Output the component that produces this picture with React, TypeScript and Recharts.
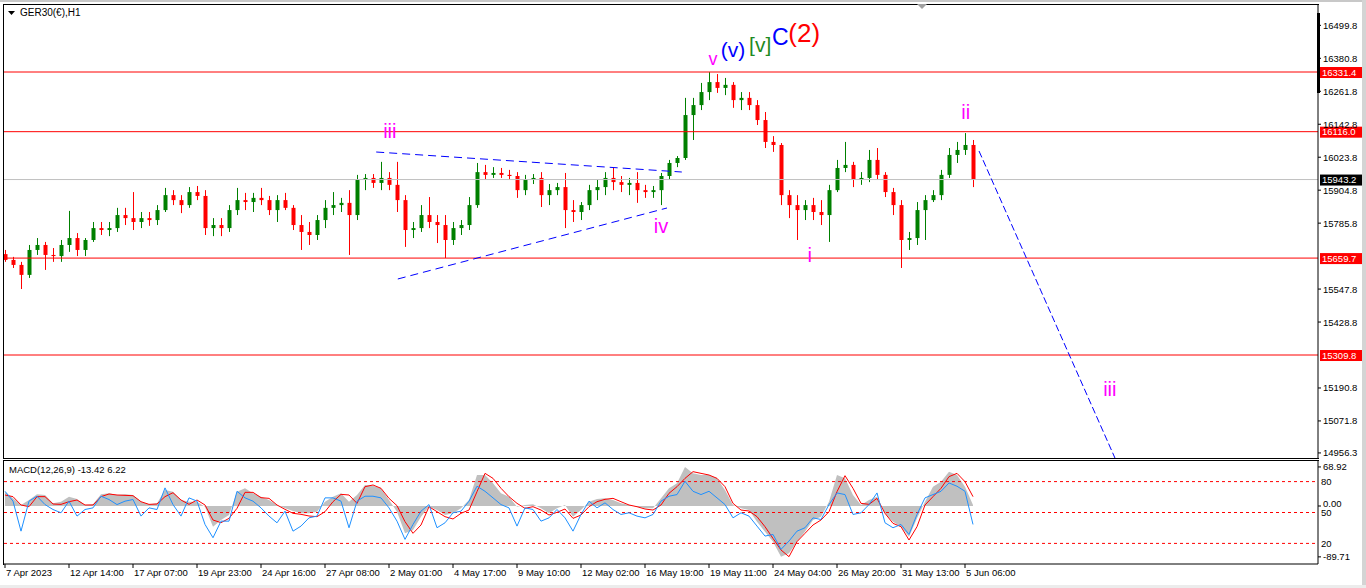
import React from 'react';
import { ComposedChart, Bar, Line, Area, XAxis, YAxis, ReferenceLine, ReferenceDot } from 'recharts';

const FONT = "'Liberation Sans', Arial, sans-serif";

// ---- price bars (H1 bars grouped, 8 per axis division) ----
const open = [
  15674,15653,15635,15599,15689,15707,15671,15667,15707,15732,
  15689,15725,15768,15761,15768,15815,15804,15790,15804,15797,
  15833,15887,15869,15851,15898,15884,15768,15779,15768,15833,
  15869,15862,15877,15869,15833,15869,15841,15779,15754,15743,
  15797,15841,15851,15859,15815,15942,15949,15931,15949,15924,
  15869,15761,15768,15815,15790,15779,15725,15768,15779,15851,
  15970,15960,15967,15960,15956,15905,15942,15949,15887,15905,
  15916,15833,15826,15851,15905,15916,15949,15934,15924,15931,
  15905,15898,15905,15956,16003,16021,16176,16212,16259,16295,
  16274,16285,16230,16238,16212,16158,16079,16068,15887,15851,
  15833,15851,15826,15815,15905,15985,15996,15942,15949,16014,
  15960,15898,15851,15725,15732,15833,15869,15887,15960,16032,
  16050,16068,
];
const high = [
  15689,15664,15646,15707,15732,15718,15696,15725,15830,15750,
  15732,15790,15790,15790,15841,15841,15898,15826,15826,15851,
  15913,15905,15887,15916,15920,15905,15804,15804,15851,15913,
  15895,15895,15913,15884,15887,15895,15851,15815,15790,15815,
  15869,15898,15877,15905,15960,15963,15963,16007,15970,16007,
  15887,15790,15851,15880,15815,15815,15790,15797,15880,16003,
  15996,15988,15985,15978,15970,15960,15963,15970,15927,15931,
  15967,15869,15862,15924,15942,15970,15985,15956,15949,15970,
  15924,15920,15967,16014,16028,16238,16238,16292,16331,16324,
  16310,16295,16259,16259,16230,16187,16100,16075,15905,15887,
  15869,15877,15869,15924,16014,16079,16007,15970,16050,16057,
  15970,15913,15869,15754,15862,15887,15905,15978,16057,16079,
  16111,16086,
];
const low = [
  15646,15624,15548,15588,15671,15617,15646,15646,15682,15667,
  15667,15718,15743,15739,15754,15779,15761,15768,15776,15779,
  15826,15851,15822,15841,15869,15743,15739,15739,15754,15815,
  15833,15826,15851,15815,15790,15833,15761,15689,15707,15725,
  15768,15815,15826,15671,15797,15905,15913,15905,15905,15826,
  15700,15732,15754,15768,15714,15660,15707,15743,15761,15841,
  15942,15949,15949,15942,15877,15887,15927,15844,15851,15887,
  15768,15790,15797,15833,15869,15887,15905,15898,15887,15859,
  15877,15877,15851,15942,15988,16014,16086,16194,16230,16256,
  16248,16202,16194,16194,16140,16057,16043,15851,15804,15725,
  15797,15797,15779,15718,15898,15970,15916,15924,15934,15942,
  15880,15815,15624,15689,15707,15725,15862,15869,15949,16003,
  16032,15916,
];
const close = [
  15653,15635,15599,15689,15707,15671,15667,15707,15732,15689,
  15725,15768,15761,15768,15815,15804,15790,15804,15797,15833,
  15887,15869,15851,15898,15884,15768,15779,15768,15833,15869,
  15862,15877,15869,15833,15869,15841,15779,15754,15743,15797,
  15841,15851,15859,15815,15942,15949,15931,15949,15924,15869,
  15761,15768,15815,15790,15779,15725,15768,15779,15851,15970,
  15960,15967,15960,15956,15905,15942,15949,15887,15905,15916,
  15833,15826,15851,15905,15916,15949,15934,15924,15931,15905,
  15898,15905,15956,16003,16021,16176,16212,16259,16295,16274,
  16285,16230,16238,16212,16158,16079,16068,15887,15851,15833,
  15851,15826,15815,15905,15985,15996,15942,15949,16014,15960,
  15898,15851,15725,15732,15833,15869,15887,15960,16032,16050,
  16068,15943,
];

// ---- MACD pane ----
const macdHist = [
  25.3,13.5,1.8,10.6,20.6,19.4,4.7,7.6,16.5,12.4,
  1.8,2.9,20.6,22.4,19.4,20.6,19.4,7.6,2.9,4.7,
  28.2,25.3,10.6,7.6,7.6,-1.2,-36.5,-24.7,-15.9,25.3,
  31.2,22.4,16.5,10.6,1.8,-4.1,-8.8,-12.9,-12.9,-10,
  7.6,16.5,22.4,7.6,19.4,37.1,35.9,31.2,10.6,-10,
  -48.2,-42.4,-18.8,-1.2,-7.1,-15.9,-12.9,-4.1,10.6,54.7,
  54.7,40,22.4,16.5,-1.2,1.8,2.9,-4.1,-12.9,-4.1,
  1.8,-18.8,-7.1,7.6,12.4,13.5,10.6,4.7,1.8,-1.2,
  -4.1,-4.1,13.5,31.2,40,68.9,57.6,54.7,54.7,48.8,
  28.2,1.8,-4.1,-7.1,-27.6,-45.3,-62.9,-89.7,-83.5,-62.9,
  -45.3,-24.7,-18.8,7.6,54.7,48.8,19.4,1.8,10.6,16.5,
  -12.9,-27.6,-36.5,-54.1,-21.8,7.6,34.1,42.9,60.6,54.7,
  34.1,1.8,
];
const macdSignal = [
  19.4,16.5,1.8,-1.2,16.5,16.5,3.5,2.9,7.6,10.6,
  1.8,1.8,16.5,21.2,19.4,18.8,18.2,7.6,2.9,3.5,
  16.5,23.5,10.6,2.9,10.6,1.8,-24.7,-29.4,-21.8,-4.1,
  24.1,24.1,14.7,13.5,1.8,-5.9,-12.9,-14.7,-17.6,-18.8,
  -10,7.6,20.6,19.4,4.7,34.1,37.1,31.2,13.5,0.6,
  -27.6,-48.2,-33.5,-1.2,-10,-18.8,-22.9,-12.9,-7.1,25.3,
  57.6,48.8,31.2,16.5,4.7,-4.1,-1.2,-7.1,-15.9,-11.2,
  -5.3,-21.8,-15.9,-1.2,7.6,11.8,13.5,7.6,1.8,-1.2,
  -5.3,-7.1,1.8,22.4,34.1,48.8,60.6,57.6,54.7,48.8,
  34.1,4.7,-7.1,-8.8,-18.8,-36.5,-57.1,-77.6,-89.4,-62.9,
  -48.2,-33.5,-24.7,-10,25.3,53.5,31.2,4.7,2.9,13.5,
  -12.9,-30.6,-36.5,-60,-36.5,1.8,16.5,31.2,51.8,57.6,
  42.9,16.5,
];
const oscLine = [
  70.6,61,31.9,61,65.8,57.7,52.9,49.7,61,46.5,
  52.9,54.5,65.8,62.6,57.7,61,62.6,46.5,54.5,52.9,
  73.9,57.7,46.5,64.2,61,38.4,25.5,41.6,41.6,70.6,
  64.2,61,54.5,46.5,40,51.3,31.9,36.8,44.8,46.5,
  64.2,64.2,61,35.2,61,65.8,65.8,64.2,54.5,41.6,
  23.9,38.4,51.3,57.7,35.2,40,49.7,51.3,61,75.5,
  70.6,64.2,57.7,54.5,36.8,54.5,52.9,41.6,44.8,52.9,
  44.8,31.9,48.1,61,54.5,59.4,52.9,48.1,49.7,46.5,
  44.8,48.1,61,65.8,67.4,80.3,70.6,67.4,70.6,64.2,
  57.7,44.8,49.7,46.5,36.8,27.1,28.7,14.2,22.3,31.9,
  35.2,44.8,43.2,57.7,69,67.4,48.1,49.7,57.7,69,
  40,35.2,38.4,28.7,48.1,64.2,67.4,70.6,78.7,75.5,
  70.6,38.4,
];

// ---- axes / levels ----
const dateTickIdx = [0, 8, 16, 24, 32, 40, 48, 56, 64, 72, 80, 88, 96, 104, 112, 120];
const dateTickLabels = [
  '7 Apr 2023', '12 Apr 14:00', '17 Apr 07:00', '19 Apr 23:00', '24 Apr 16:00', '27 Apr 08:00',
  '2 May 01:00', '4 May 17:00', '9 May 10:00', '12 May 02:00', '16 May 19:00', '19 May 11:00',
  '24 May 04:00', '26 May 20:00', '31 May 13:00', '5 Jun 06:00',
];
const priceTicks = [16499.8, 16380.8, 16261.8, 16142.8, 16023.8, 15904.8, 15785.8, 15547.8, 15428.8, 15190.8, 15071.8, 14956.3];
const levelPrices = [16331.4, 16116.0, 15659.7, 15309.8];
const currentPrice = 15943.2;
const macdTicks = [68.92, 0, -89.71];
const oscLevels = [80, 50, 20];

// wave trend lines (bar index / price)
const trendX1 = [46.4, 49.1, 121.75];
const trendY1 = [16042.6, 15584.2, 16046.2];
const trendX2 = [84.6, 82.75, 138.75];
const trendY2 = [15970.4, 15840.5, 14937.5];

// wave labels (bar index / price at text baseline)
const waveText = ['iii', 'iv', 'v', '(v)', '[v]', 'C', '(2)', 'i', 'ii', 'iii'];
const waveIdx = [48.1, 82, 88.5, 91, 94.4, 96.9, 99.9, 100.6, 120.1, 138.1];
const wavePrice = [16093, 15750, 16357, 16386, 16404, 16429, 16440, 15646, 16162, 15162];
const waveColor = ['#ff00ff', '#ff00ff', '#ff00ff', '#0000ff', '#1f8a1f', '#0000ff', '#ff0000', '#ff00ff', '#ff00ff', '#ff00ff'];
const waveSize = [20, 20, 18, 21, 21, 23, 26, 20, 20, 20];

const X_DOMAIN: [number, number] = [-0.125, 164.125];
const UP = '#008000';
const DOWN = '#ff0000';

const candleData = open.map((o, i) => ({ i, o, h: high[i], l: low[i], c: close[i], range: [low[i], high[i]] }));
const macdData = macdHist.map((v, i) => ({ i, hist: v, sig: macdSignal[i], osc: oscLine[i] }));

const Candle = (props: any) => {
  const { x, y, width, height, payload } = props;
  if (!payload) return null;
  const { o, h, l, c } = payload;
  const cx = Math.round(x + width / 2) + 0.5;
  const span = h - l || 1;
  const py = (v: number) => y + ((h - v) / span) * height;
  const color = c > o ? UP : c < o ? DOWN : '#000';
  const top = py(Math.max(o, c));
  const bot = py(Math.min(o, c));
  return (
    <g>
      <line x1={cx} x2={cx} y1={y} y2={y + height} stroke={color} strokeWidth={1} />
      <rect x={cx - 2} y={top} width={4} height={Math.max(1, bot - top)} fill={color} />
    </g>
  );
};

const PriceTick = (props: any) => {
  const { x, y, payload } = props;
  return (
    <text x={x} y={y + 3.5} fontSize={9.5} fontFamily={FONT} fill="#000" textAnchor="start">
      {Number(payload.value).toFixed(1)}
    </text>
  );
};

const MacdTick = (props: any) => {
  const { x, y, payload } = props;
  const v = Number(payload.value);
  return (
    <text x={x} y={y + 3.5 + (v === 0 ? -3 : 0)} fontSize={9.5} fontFamily={FONT} fill="#000" textAnchor="start">
      {v.toFixed(2)}
    </text>
  );
};

const DateTick = (props: any) => {
  const { x, y, payload } = props;
  const k = dateTickIdx.indexOf(payload.value);
  return (
    <text x={x + 1} y={y + 7} fontSize={9.5} fontFamily={FONT} fill="#000" textAnchor="start">
      {dateTickLabels[k]}
    </text>
  );
};

const boxLabel = (text: string, bg: string) => (p: any) => {
  const vb = p.viewBox || {};
  const x0 = vb.x + vb.width + 2;
  return (
    <g>
      <rect x={x0} y={vb.y - 5} width={42} height={11} fill={bg} />
      <text x={x0 + 2} y={vb.y + 3.5} fontSize={9.5} fontFamily={FONT} fill="#fff">{text}</text>
    </g>
  );
};

const levelLabel = (text: string) => (p: any) => {
  const vb = p.viewBox || {};
  return (
    <text x={vb.x + vb.width + 3} y={vb.y + 3.5} fontSize={9.5} fontFamily={FONT} fill="#000">{text}</text>
  );
};

export default function App() {
  return (
    <div style={{ position: 'absolute', left: 0, top: 0, width: 1366, height: 588, background: '#fff', overflow: 'hidden', fontFamily: FONT }}>
      {/* window chrome */}
      <div style={{ position: 'absolute', left: 0, top: 0, width: 1366, height: 2, background: '#c8c8c8' }} />
      <div style={{ position: 'absolute', left: 1362, top: 0, width: 4, height: 588, background: '#d4d4d4' }} />
      <div style={{ position: 'absolute', left: 0, top: 585, width: 1366, height: 3, background: '#ececec' }} />

      <div style={{ position: 'absolute', left: 0, top: 0 }}>
        <ComposedChart width={1366} height={460} data={candleData} margin={{ top: 5, right: 0, bottom: 2, left: 4 }}>
          <XAxis dataKey="i" type="number" domain={X_DOMAIN} hide allowDataOverflow />
          <YAxis
            orientation="right"
            width={48}
            domain={[14938, 16573.3]}
            ticks={priceTicks}
            interval={0}
            allowDataOverflow
            tick={<PriceTick />}
            tickSize={3}
            tickMargin={2}
            tickLine={{ stroke: '#000' }}
            axisLine={{ stroke: '#000' }}
          />
          <ReferenceLine y={currentPrice} stroke="#c0c0c0" strokeWidth={1} label={boxLabel(currentPrice.toFixed(1), '#000')} />
          {levelPrices.map((v) => (
            <ReferenceLine key={v} y={v} stroke="#ff0000" strokeWidth={1} label={boxLabel(v.toFixed(1), '#ff0000')} />
          ))}
          <Bar dataKey="range" barSize={5} shape={(p: any) => <Candle {...p} />} isAnimationActive={false} />
          {trendX1.map((x1, k) => (
            <ReferenceLine
              key={'t' + k}
              segment={[{ x: x1, y: trendY1[k] }, { x: trendX2[k], y: trendY2[k] }]}
              stroke="#0000ff"
              strokeWidth={1}
              strokeDasharray={k === 2 ? '7 3' : '8 5'}
              ifOverflow="visible"
            />
          ))}
          {waveText.map((t, k) => (
            <ReferenceDot
              key={'w' + k}
              x={waveIdx[k]}
              y={wavePrice[k]}
              r={0}
              ifOverflow="visible"
              shape={(p: any) => (
                <text x={p.cx} y={p.cy} textAnchor="middle" fontSize={waveSize[k]} fontFamily={FONT} fill={waveColor[k]}>
                  {t}
                </text>
              )}
            />
          ))}
        </ComposedChart>
      </div>

      <div style={{ position: 'absolute', left: 0, top: 459 }}>
        <ComposedChart width={1366} height={129} data={macdData} margin={{ top: 2, right: 0, bottom: 0, left: 4 }}>
          <XAxis
            dataKey="i"
            type="number"
            domain={X_DOMAIN}
            ticks={dateTickIdx}
            interval={0}
            allowDataOverflow
            height={24}
            tick={<DateTick />}
            tickSize={4}
            tickMargin={1}
            tickLine={{ stroke: '#000' }}
            axisLine={{ stroke: '#000' }}
          />
          <YAxis
            yAxisId="macd"
            orientation="right"
            width={48}
            domain={[-102.3, 79.4]}
            ticks={macdTicks}
            interval={0}
            allowDataOverflow
            tick={<MacdTick />}
            tickSize={3}
            tickMargin={2}
            tickLine={{ stroke: '#000' }}
            axisLine={{ stroke: '#000' }}
          />
          <YAxis yAxisId="osc" hide domain={[0, 100]} allowDataOverflow />
          <Area yAxisId="macd" dataKey="hist" type="linear" baseValue={0} fill="#c0c0c0" fillOpacity={1} stroke="none" isAnimationActive={false} />
          {oscLevels.map((v) => (
            <ReferenceLine key={v} yAxisId="osc" y={v} stroke="#ff0000" strokeDasharray="3 3" label={levelLabel(String(v))} />
          ))}
          <Line yAxisId="macd" dataKey="sig" type="linear" stroke="#ff0000" strokeWidth={1} dot={false} isAnimationActive={false} />
          <Line yAxisId="osc" dataKey="osc" type="linear" stroke="#1e90ff" strokeWidth={1} dot={false} isAnimationActive={false} />
        </ComposedChart>
      </div>

      {/* pane frames */}
      <div style={{ position: 'absolute', left: 3, top: 4, width: 1316, height: 455, borderTop: '1px solid #000', borderLeft: '1px solid #000', borderBottom: '1px solid #000', boxSizing: 'border-box' }} />
      <div style={{ position: 'absolute', left: 3, top: 460, width: 1316, height: 105, borderTop: '1px solid #000', borderLeft: '1px solid #000', boxSizing: 'border-box' }} />
      <div style={{ position: 'absolute', left: 1317, top: 13, width: 3, height: 80, background: '#000' }} />

      <svg style={{ position: 'absolute', left: 0, top: 0 }} width={1366} height={588}>
        <polygon points="8,11 15,11 11.5,15" fill="#000" />
        <polygon points="917,4 927,4 922,9" fill="#a0a0a0" />
        <text x={20} y={16} fontSize={10} fontFamily={FONT} fill="#000">GER30(€),H1</text>
        <text x={9} y={473} fontSize={9.5} fontFamily={FONT} fill="#000">MACD(12,26,9) -13.42 6.22</text>
      </svg>
    </div>
  );
}
